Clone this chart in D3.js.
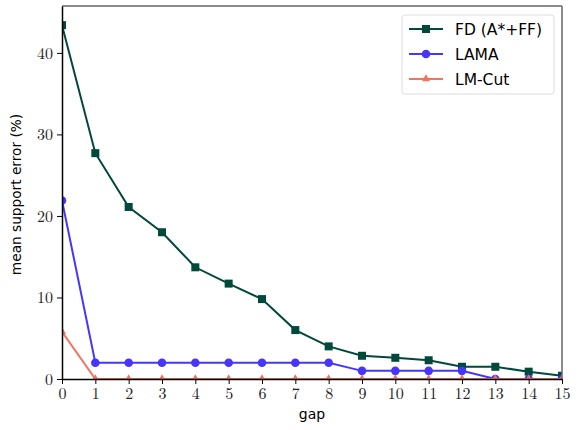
<!DOCTYPE html>
<meta charset="utf-8">
<script src="https://d3js.org/d3.v7.min.js"></script>
<style>
  body { margin: 0; background: #fff; }
</style>
<div id="chart"></div>
<script>

// data
var gaps = [0, 1, 2, 3, 4, 5, 6, 7, 8, 9, 10, 11, 12, 13, 14, 15];
var fdValues = [43.4, 27.7, 21.1, 18.0, 13.7, 11.7, 9.8, 6.0, 4.0, 2.85, 2.6, 2.3, 1.5, 1.5, 0.9, 0.4];
var lamaValues = [21.9, 2, 2, 2, 2, 2, 2, 2, 2, 1, 1, 1, 1, 0, 0, 0];
var lmcutValues = [5.8, 0, 0, 0, 0, 0, 0, 0, 0, 0, 0, 0, 0, 0, 0, 0];
var yTicks = [0, 10, 20, 30, 40];
var seriesNames = ["FD (A*+FF)", "LAMA", "LM-Cut"];

var series = [
  {name: seriesNames[0], values: fdValues, color: "#00493b", marker: "square"},
  {name: seriesNames[1], values: lamaValues, color: "#4636fb", marker: "circle"},
  {name: seriesNames[2], values: lmcutValues, color: "#f8705e", marker: "triangle"}
];

var margin = {top: 6, right: 15, bottom: 51, left: 62},
    width = 577 - margin.left - margin.right,
    height = 430 - margin.top - margin.bottom;

var svg = d3.select("#chart")
  .append("svg")
    .attr("width", 577)
    .attr("height", 430)
  .append("g")
    .attr("transform", "translate(" + margin.left + "," + margin.top + ")");

svg.append("clipPath").attr("id", "plotclip")
  .append("rect").attr("width", width).attr("height", height);

var x = d3.scaleLinear().domain([0, 15]).range([0, width]);
var y = d3.scaleLinear().domain([0, 45.75]).range([height, 0]);

var line = d3.line()
  .x(function(d, i) { return x(gaps[i]); })
  .y(function(d) { return y(d); });

function drawMarker(g, type, cx, cy, color) {
  if (type === "square") {
    g.append("rect").attr("x", cx - 4).attr("y", cy - 4).attr("width", 8).attr("height", 8)
      .attr("fill", color);
  } else if (type === "circle") {
    g.append("circle").attr("cx", cx).attr("cy", cy).attr("r", 4.3).attr("fill", color);
  } else {
    g.append("path")
      .attr("d", d3.symbol().type(d3.symbolTriangle).size(28)())
      .attr("transform", "translate(" + cx + "," + cy + ")")
      .attr("fill", color);
  }
}

// lines in plot order, clipped to the axes area
var plot = svg.append("g").attr("clip-path", "url(#plotclip)");
series.forEach(function(s) {
  var g = plot.append("g");
  g.append("path")
    .datum(s.values)
    .attr("d", line)
    .attr("fill", "none")
    .attr("stroke", s.color)
    .attr("stroke-width", 2);
  s.values.forEach(function(v, i) {
    drawMarker(g, s.marker, x(gaps[i]), y(v), s.color);
  });
});

// frame: top/right grey, left/bottom black
svg.append("line").attr("x1", 0).attr("x2", width).attr("y1", 0).attr("y2", 0)
  .attr("stroke", "#666").attr("stroke-width", 1.5);
svg.append("line").attr("x1", width).attr("x2", width).attr("y1", 0).attr("y2", height)
  .attr("stroke", "#666").attr("stroke-width", 1.5);

// axes
var xAxis = svg.append("g")
  .attr("transform", "translate(0," + height + ")")
  .call(d3.axisBottom(x).tickValues(gaps).tickSize(5).tickPadding(4).tickSizeOuter(0));
var yAxis = svg.append("g")
  .call(d3.axisLeft(y).tickValues(yTicks).tickSize(5).tickPadding(4).tickSizeOuter(0));

[xAxis, yAxis].forEach(function(a) {
  a.select(".domain").attr("stroke", "#000").attr("stroke-width", 1.5);
  a.selectAll(".tick line").attr("stroke", "#000").attr("stroke-width", 1);
  a.selectAll(".tick text")
    .style("font-family", "'Latin Modern Roman', 'Liberation Serif', 'DejaVu Serif', serif")
    .style("font-size", "16px")
    .attr("fill", "#222");
});

svg.append("text")
  .attr("x", width / 2)
  .attr("y", height + 40)
  .attr("text-anchor", "middle")
  .style("font-family", "'DejaVu Sans', sans-serif")
  .style("font-size", "14px")
  .text("gap");

svg.append("text")
  .attr("transform", "translate(" + (-41) + "," + (height / 2 + 2) + ") rotate(-90)")
  .attr("text-anchor", "middle")
  .style("font-family", "'DejaVu Sans', sans-serif")
  .style("font-size", "13.7px")
  .text("mean support error (%)");

// legend
var legend = svg.append("g").attr("transform", "translate(" + (width - 160) + ",9)");
legend.append("rect")
  .attr("width", 152).attr("height", 79).attr("rx", 3)
  .attr("fill", "#fff").attr("fill-opacity", 0.8)
  .attr("stroke", "#ddd");
series.forEach(function(s, i) {
  var ly = 14 + i * 25;
  legend.append("line")
    .attr("x1", 7).attr("x2", 41).attr("y1", ly).attr("y2", ly)
    .attr("stroke", s.color).attr("stroke-width", 2);
  drawMarker(legend, s.marker, 24, ly, s.color);
  legend.append("text")
    .attr("x", 53).attr("y", ly + 5.5)
    .style("font-family", "'DejaVu Sans', sans-serif")
    .style("font-size", "15.5px")
    .text(s.name);
});

</script>
